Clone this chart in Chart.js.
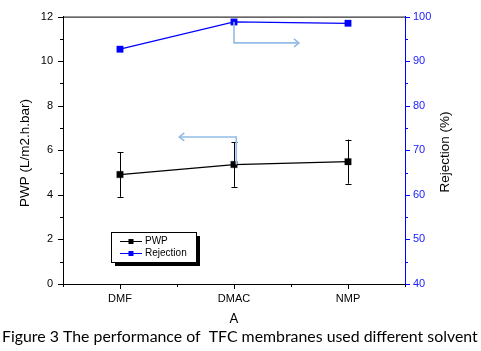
<!DOCTYPE html>
<html>
<head>
<meta charset="utf-8">
<script src="https://cdn.jsdelivr.net/npm/chart.js@4.4.1/dist/chart.umd.min.js"></script>
<style>
html,body{margin:0;padding:0;background:#fff;}
#wrap{width:481px;height:351px;position:relative;}
</style>
</head>
<body>
<div id="wrap"><canvas id="c" width="481" height="351"></canvas></div>
<script>
// ---- data ----
const categories = ['DMF', 'DMAC', 'NMP'];
const pwp = [4.91, 5.36, 5.49];
const pwpErr = [1.0, 1.0, 0.99];
const rejection = [92.7, 98.8, 98.5];
const leftTicks = [0, 2, 4, 6, 8, 10, 12];
const rightTicks = [40, 50, 60, 70, 80, 90, 100];
// annotation arrows (category index, value)
const arrowRejection = [[1, 98.8], [1, 94.1], [1.57, 94.1]];
const arrowPwp = [[1.02, 5.36], [1.02, 6.6], [0.52, 6.6]];
const xTitle = 'A';
const caption = 'Figure 3 The performance of  TFC membranes used different solvent';

const BLUE = '#0000ff';
const ARROW = '#94bce6';

const extras = {
  id: 'extras',
  afterDatasetsDraw(chart) {
    const ctx = chart.ctx;
    const x = chart.scales.x, y = chart.scales.y, y2 = chart.scales.y2;
    ctx.save();
    // error bars
    ctx.strokeStyle = '#000'; ctx.lineWidth = 1;
    pwp.forEach((v, i) => {
      const px = Math.round(x.getPixelForValue(i)) + 0.5;
      const t = y.getPixelForValue(v + pwpErr[i]);
      const b = y.getPixelForValue(v - pwpErr[i]);
      ctx.beginPath();
      ctx.moveTo(px, t); ctx.lineTo(px, b);
      ctx.moveTo(px - 3, Math.round(t) + 0.5); ctx.lineTo(px + 3, Math.round(t) + 0.5);
      ctx.moveTo(px - 3, Math.round(b) + 0.5); ctx.lineTo(px + 3, Math.round(b) + 0.5);
      ctx.stroke();
    });
    // arrows
    function arrow(pts, sc, dir) {
      const p = pts.map(q => [x.getPixelForValue(q[0]), sc.getPixelForValue(q[1])]);
      ctx.strokeStyle = ARROW; ctx.lineWidth = 1.6;
      ctx.beginPath();
      ctx.moveTo(p[0][0], p[0][1]);
      for (let k = 1; k < p.length; k++) ctx.lineTo(p[k][0], p[k][1]);
      ctx.stroke();
      const e = p[p.length - 1];
      ctx.beginPath();
      ctx.moveTo(e[0] - dir * 5, e[1] - 4);
      ctx.lineTo(e[0], e[1]);
      ctx.lineTo(e[0] - dir * 5, e[1] + 4);
      ctx.stroke();
    }
    arrow(arrowRejection, y2, 1);
    arrow(arrowPwp, y, -1);
    ctx.restore();
  },
  afterDraw(chart) {
    const ctx = chart.ctx;
    const x = chart.scales.x, y = chart.scales.y, y2 = chart.scales.y2;
    const ca = chart.chartArea;
    ctx.save();
    // top border
    ctx.strokeStyle = '#000'; ctx.lineWidth = 1;
    ctx.beginPath(); ctx.moveTo(ca.left, ca.top + 0.5); ctx.lineTo(ca.right, ca.top + 0.5); ctx.stroke();
    // left ticks
    ctx.beginPath();
    for (let v = 0; v <= 12; v++) {
      const py = Math.round(y.getPixelForValue(v)) + 0.5;
      const len = v % 2 === 0 ? 5 : 3;
      ctx.moveTo(ca.left - len, py); ctx.lineTo(ca.left, py);
    }
    // x ticks
    for (let v = -0.5; v <= 2.5; v += 0.5) {
      const px = Math.round(x.getPixelForValue(v)) + 0.5;
      const len = Number.isInteger(v) ? 5 : 3;
      ctx.moveTo(px, ca.bottom); ctx.lineTo(px, ca.bottom + len);
    }
    ctx.stroke();
    // right ticks
    ctx.strokeStyle = BLUE;
    ctx.beginPath();
    for (let v = 40; v <= 100; v += 5) {
      const py = Math.round(y2.getPixelForValue(v)) + 0.5;
      const len = v % 10 === 0 ? 5 : 3;
      ctx.moveTo(ca.right, py); ctx.lineTo(ca.right + len, py);
    }
    ctx.stroke();
    // axis titles
    ctx.fillStyle = '#000';
    ctx.font = '13.5px "Liberation Sans", Arial, sans-serif';
    ctx.textAlign = 'center'; ctx.textBaseline = 'middle';
    ctx.save(); ctx.translate(25, 153); ctx.rotate(-Math.PI / 2);
    ctx.fillText('PWP (L/m2.h.bar)', 0, 0); ctx.restore();
    ctx.save(); ctx.translate(445, 152); ctx.rotate(-Math.PI / 2);
    ctx.fillText('Rejection (%)', 0, 0); ctx.restore();
    // x title
    ctx.font = '13px Lato, sans-serif';
    ctx.textBaseline = 'alphabetic';
    ctx.fillText(xTitle, (ca.left + ca.right) / 2, 323);
    // caption fitted to width
    let fs = 16;
    ctx.font = fs + 'px Lato, sans-serif';
    const w = ctx.measureText(caption).width;
    fs = fs * 476 / w;
    ctx.font = fs.toFixed(2) + 'px Lato, sans-serif';
    ctx.textAlign = 'left';
    ctx.fillText(caption, 2, 342);
    // legend
    const lx = 111, ly = 232, lw = 85, lh = 30;
    ctx.fillStyle = '#000';
    ctx.fillRect(lx + 4, ly + 4, lw, lh);
    ctx.fillStyle = '#fff';
    ctx.fillRect(lx, ly, lw, lh);
    ctx.strokeStyle = '#000'; ctx.lineWidth = 1;
    ctx.strokeRect(lx + 0.5, ly + 0.5, lw, lh);
    const items = [['PWP', '#000'], ['Rejection', BLUE]];
    ctx.font = '10px "Liberation Sans", Arial, sans-serif';
    ctx.textBaseline = 'middle';
    items.forEach((it, k) => {
      const iy = ly + 9.5 + k * 12;
      ctx.strokeStyle = it[1]; ctx.lineWidth = 1;
      ctx.beginPath(); ctx.moveTo(lx + 9, iy); ctx.lineTo(lx + 31, iy); ctx.stroke();
      ctx.fillStyle = it[1];
      ctx.fillRect(lx + 17.5, iy - 2.5, 5, 5);
      ctx.fillStyle = '#000';
      ctx.fillText(it[0], lx + 34, iy);
    });
    ctx.restore();
  }
};

new Chart(document.getElementById('c'), {
  type: 'line',
  data: {
    datasets: [
      {
        label: 'PWP',
        data: pwp.map((v, i) => ({ x: i, y: v })),
        borderColor: '#000', backgroundColor: '#000',
        borderWidth: 1.2, pointStyle: 'rect', pointRadius: 4.6, pointBorderWidth: 0.3,
        yAxisID: 'y'
      },
      {
        label: 'Rejection',
        data: rejection.map((v, i) => ({ x: i, y: v })),
        borderColor: BLUE, backgroundColor: BLUE,
        borderWidth: 1.2, pointStyle: 'rect', pointRadius: 4.6, pointBorderWidth: 0.3,
        yAxisID: 'y2'
      }
    ]
  },
  options: {
    responsive: false,
    animation: false,
    events: [],
    layout: { padding: { top: 8, left: 0, right: 0, bottom: 0 } },
    plugins: { legend: { display: false }, tooltip: { enabled: false } },
    scales: {
      x: {
        type: 'linear', min: -0.5, max: 2.5,
        afterBuildTicks: s => { s.ticks = categories.map((c, i) => ({ value: i })); },
        afterFit: s => { s.height = 67; },
        grid: { display: false, drawTicks: false },
        border: { display: true, color: '#000', width: 1 },
        ticks: {
          padding: 8, color: '#000', maxRotation: 0, autoSkip: false,
          font: { family: '"Liberation Sans", Arial, sans-serif', size: 11 },
          callback: v => categories[v]
        }
      },
      y: {
        position: 'left', min: 0, max: 12,
        afterBuildTicks: s => { s.ticks = leftTicks.map(v => ({ value: v })); },
        afterFit: s => { s.width = 63; },
        grid: { display: false, drawTicks: false },
        border: { display: true, color: '#000', width: 1 },
        ticks: {
          padding: 10, color: '#000',
          font: { family: '"Liberation Sans", Arial, sans-serif', size: 11 }
        }
      },
      y2: {
        position: 'right', min: 40, max: 100,
        afterBuildTicks: s => { s.ticks = rightTicks.map(v => ({ value: v })); },
        afterFit: s => { s.width = 76; },
        grid: { display: false, drawTicks: false },
        border: { display: true, color: BLUE, width: 1 },
        ticks: {
          padding: 8, color: '#2020ff',
          font: { family: '"Liberation Sans", Arial, sans-serif', size: 11 }
        }
      }
    }
  },
  plugins: [extras]
});
</script>
</body>
</html>
